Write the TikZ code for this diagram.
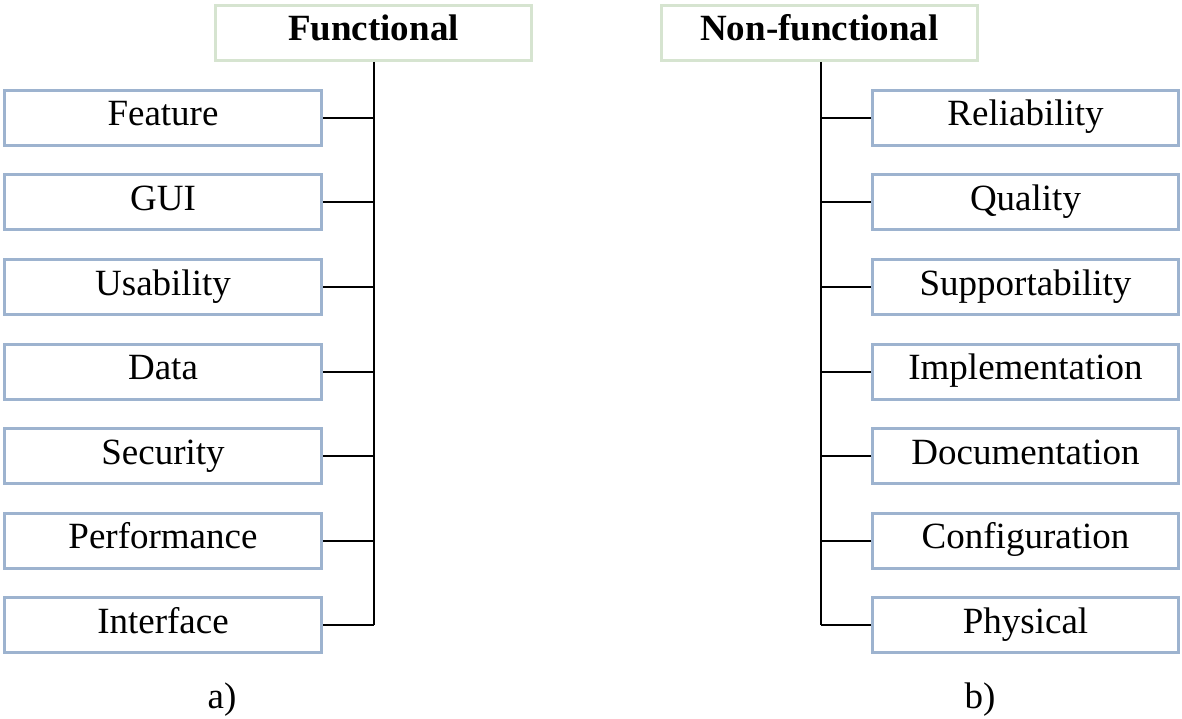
\documentclass[tikz,border=0pt]{standalone}
\usepackage{fontspec}
\setmainfont{Liberation Serif}
\definecolor{hdrborder}{RGB}{214,228,208}
\definecolor{boxborder}{RGB}{157,179,207}
\tikzset{
  basebox/.style={line width=3pt, fill=white, minimum height=55pt, inner sep=0pt, text height=26pt, text depth=10pt},
  hdr/.style={basebox, draw=hdrborder, minimum width=316pt, font=\fontsize{37}{40}\selectfont\bfseries},
  lbox/.style={basebox, draw=boxborder, minimum width=317pt, font=\fontsize{37}{40}\selectfont},
  rbox/.style={basebox, draw=boxborder, minimum width=306pt, font=\fontsize{37}{40}\selectfont},
  link/.style={draw=black, line width=2pt},
  captext/.style={font=\fontsize{37}{40}\selectfont, text height=26pt, text depth=10pt, inner sep=0pt}
}
\begin{document}
\begin{tikzpicture}[x=1pt,y=-1pt]
\useasboundingbox (0,0) rectangle (1182,719);
% left group
\node[hdr] (fh) at (373.5,33) {Functional};
\node[lbox] (l1) at (163,118) {Feature};
\node[lbox] (l2) at (163,202.5) {GUI};
\node[lbox] (l3) at (163,287) {Usability};
\node[lbox] (l4) at (163,371.5) {Data};
\node[lbox] (l5) at (163,456) {Security};
\node[lbox] (l6) at (163,540.5) {Performance};
\node[lbox] (l7) at (163,625) {Interface};
\coordinate (lt) at (373.5,625);
\draw[link] (fh.south) -- (lt);
\foreach \i in {1,...,6} {\draw[link] (l\i.east) -- (l\i.east -| lt);}
\draw[link] (l7.east) -- (lt);
% right group
\node[hdr] (nh) at (819.5,33) {Non-functional};
\node[rbox] (r1) at (1025.5,118) {Reliability};
\node[rbox] (r2) at (1025.5,202.5) {Quality};
\node[rbox] (r3) at (1025.5,287) {Supportability};
\node[rbox] (r4) at (1025.5,371.5) {Implementation};
\node[rbox] (r5) at (1025.5,456) {Documentation};
\node[rbox] (r6) at (1025.5,540.5) {Configuration};
\node[rbox] (r7) at (1025.5,625) {Physical};
\coordinate (rt) at (821,625);
\draw[link] (nh.south -| rt) -- (rt);
\foreach \i in {1,...,6} {\draw[link] (r\i.west) -- (r\i.west -| rt);}
\draw[link] (r7.west) -- (rt);
% captions
\node[captext] (ca) at (222,700) {a)};
\node[captext] (cb) at (980,700) {b)};
\end{tikzpicture}
\end{document}
